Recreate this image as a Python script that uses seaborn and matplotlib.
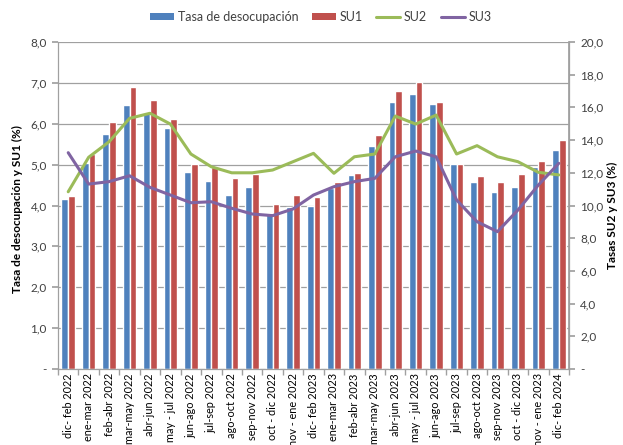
import matplotlib
matplotlib.use("Agg")
import numpy as np
import pandas as pd
import seaborn as sns
import matplotlib.pyplot as plt
from matplotlib.ticker import FuncFormatter, MultipleLocator, FixedLocator
from matplotlib.patches import Patch
from matplotlib.lines import Line2D

periodos = ["dic- feb 2022", "ene-mar 2022", "feb-abr 2022", "mar-may 2022", "abr-jun 2022",
            "may - jul 2022", "jun-ago 2022", "jul-sep 2022", "ago-oct 2022", "sep-nov 2022",
            "oct - dic 2022", "nov - ene 2022", "dic- feb 2023", "ene-mar 2023", "feb-abr 2023",
            "mar-may 2023", "abr-jun 2023", "may - jul 2023", "jun-ago 2023", "jul-sep 2023",
            "ago-oct 2023", "sep-nov 2023", "oct - dic 2023", "nov - ene 2023", "dic- feb 2024"]
tasa = [4.16, 5.05, 5.76, 6.45, 6.26, 5.90, 4.82, 4.61, 4.26, 4.45, 3.81, 3.97, 4.00,
        4.43, 4.75, 5.45, 6.53, 6.72, 6.49, 5.02, 4.58, 4.34, 4.45, 4.95, 5.35]
su1 = [4.23, 5.25, 6.05, 6.90, 6.57, 6.12, 5.02, 4.93, 4.67, 4.76, 4.03, 4.25, 4.20,
       4.57, 4.80, 5.73, 6.81, 7.02, 6.54, 5.02, 4.73, 4.57, 4.76, 5.08, 5.61]
su2 = [10.84, 12.95, 13.90, 15.33, 15.64, 14.98, 13.15, 12.37, 12.00, 12.00, 12.17, 12.68, 13.19,
       11.97, 12.98, 13.15, 15.47, 14.98, 15.53, 13.15, 13.66, 12.98, 12.68, 12.03, 11.87]
su3 = [13.23, 11.31, 11.46, 11.82, 11.11, 10.64, 10.17, 10.23, 9.83, 9.48, 9.38, 9.79, 10.64,
       11.15, 11.46, 11.66, 12.98, 13.33, 12.98, 10.34, 9.01, 8.40, 9.72, 11.25, 12.58]
series_bar = ["Tasa de desocupación", "SU1"]
series_line = ["SU2", "SU3"]

BLUE, RED, GREEN, PURPLE = "#4F81BD", "#C0504D", "#9BBB59", "#8064A2"
GRAY = "#A0A0A0"
TXT = "#404040"

sns.set_theme(style="white")
plt.rcParams['font.family'] = ['Lato', 'DejaVu Sans']

df_bar = pd.DataFrame({
    "periodo": periodos * 2,
    "valor": tasa + su1,
    "serie": [series_bar[0]] * len(periodos) + [series_bar[1]] * len(periodos),
})
idx = list(range(len(periodos)))
df_line = pd.DataFrame({
    "x": idx * 2,
    "valor": su2 + su3,
    "serie": [series_line[0]] * len(periodos) + [series_line[1]] * len(periodos),
})

fig = plt.figure(figsize=(6.23, 4.45), dpi=100)
ax = fig.add_axes([58 / 623, 1 - 369 / 445, (569 - 58) / 623, (369 - 42) / 445])

sns.barplot(data=df_bar, x="periodo", y="valor", hue="serie", palette=[BLUE, RED],
            width=0.66, saturation=1, errorbar=None, legend=False, ax=ax, zorder=2)
ax.set_xlim(-0.5, len(periodos) - 0.5)
ax.set_ylim(0, 8)
ax.yaxis.set_major_locator(MultipleLocator(1))
ax.yaxis.grid(True, color=GRAY, lw=0.9)
ax.set_axisbelow(True)

def fmt(v, pos):
    if abs(v) < 1e-9:
        return "-"
    return f"{v:.1f}".replace(".", ",")

ax.yaxis.set_major_formatter(FuncFormatter(fmt))
ax.set_xlabel("")
ax.set_ylabel("Tasa de desocupación y SU1 (%)", fontsize=8.5, fontweight="bold", color="black")
ax.yaxis.set_label_coords(-0.068, 0.49)
ax.tick_params(axis="y", left=True, length=4, color=GRAY, labelsize=8.5, labelcolor=TXT, pad=4)
ax.tick_params(axis="x", which="major", bottom=False, length=0, labelsize=7.8, labelcolor="black",
               rotation=90, pad=3)
ax.xaxis.set_minor_locator(FixedLocator(np.arange(-0.5, len(periodos), 1)))
ax.tick_params(axis="x", which="minor", bottom=True, length=4, color=GRAY)
ax.spines["top"].set_visible(False)
for s in ["left", "bottom", "right"]:
    ax.spines[s].set_color(GRAY)
    ax.spines[s].set_linewidth(0.9)

ax2 = ax.twinx()
sns.lineplot(data=df_line, x="x", y="valor", hue="serie", palette=[GREEN, PURPLE],
             linewidth=2.2, legend=False, sort=False, ax=ax2)
ax2.set_ylim(0, 20)
ax2.set_xlim(-0.5, len(periodos) - 0.5)
ax2.yaxis.set_major_locator(MultipleLocator(2))
ax2.yaxis.set_major_formatter(FuncFormatter(fmt))
ax2.set_ylabel("Tasas SU2 y SU3 (%)", fontsize=8.5, fontweight="bold", color="black", rotation=90)
ax2.yaxis.set_label_coords(1.075, 0.47)
ax2.tick_params(axis="y", right=True, length=4, color=GRAY, labelsize=8.5, labelcolor=TXT, pad=4)
ax2.set_xlabel("")
ax2.grid(False)
ax2.spines["top"].set_visible(False)
ax2.spines["right"].set_color(GRAY)
ax2.spines["left"].set_visible(False)
ax2.spines["bottom"].set_visible(False)

handles = [Patch(facecolor=BLUE, edgecolor="none"), Patch(facecolor=RED, edgecolor="none"),
           Line2D([0], [0], color=GREEN, lw=2.2), Line2D([0], [0], color=PURPLE, lw=2.2)]
fig.legend(handles, series_bar + series_line, loc="center", bbox_to_anchor=(0.515, 0.962),
           ncol=4, frameon=False, fontsize=9, handlelength=1.9, handleheight=0.55,
           columnspacing=1.1, handletextpad=0.3, labelcolor=TXT)

fig.savefig("out.png", dpi=100)
